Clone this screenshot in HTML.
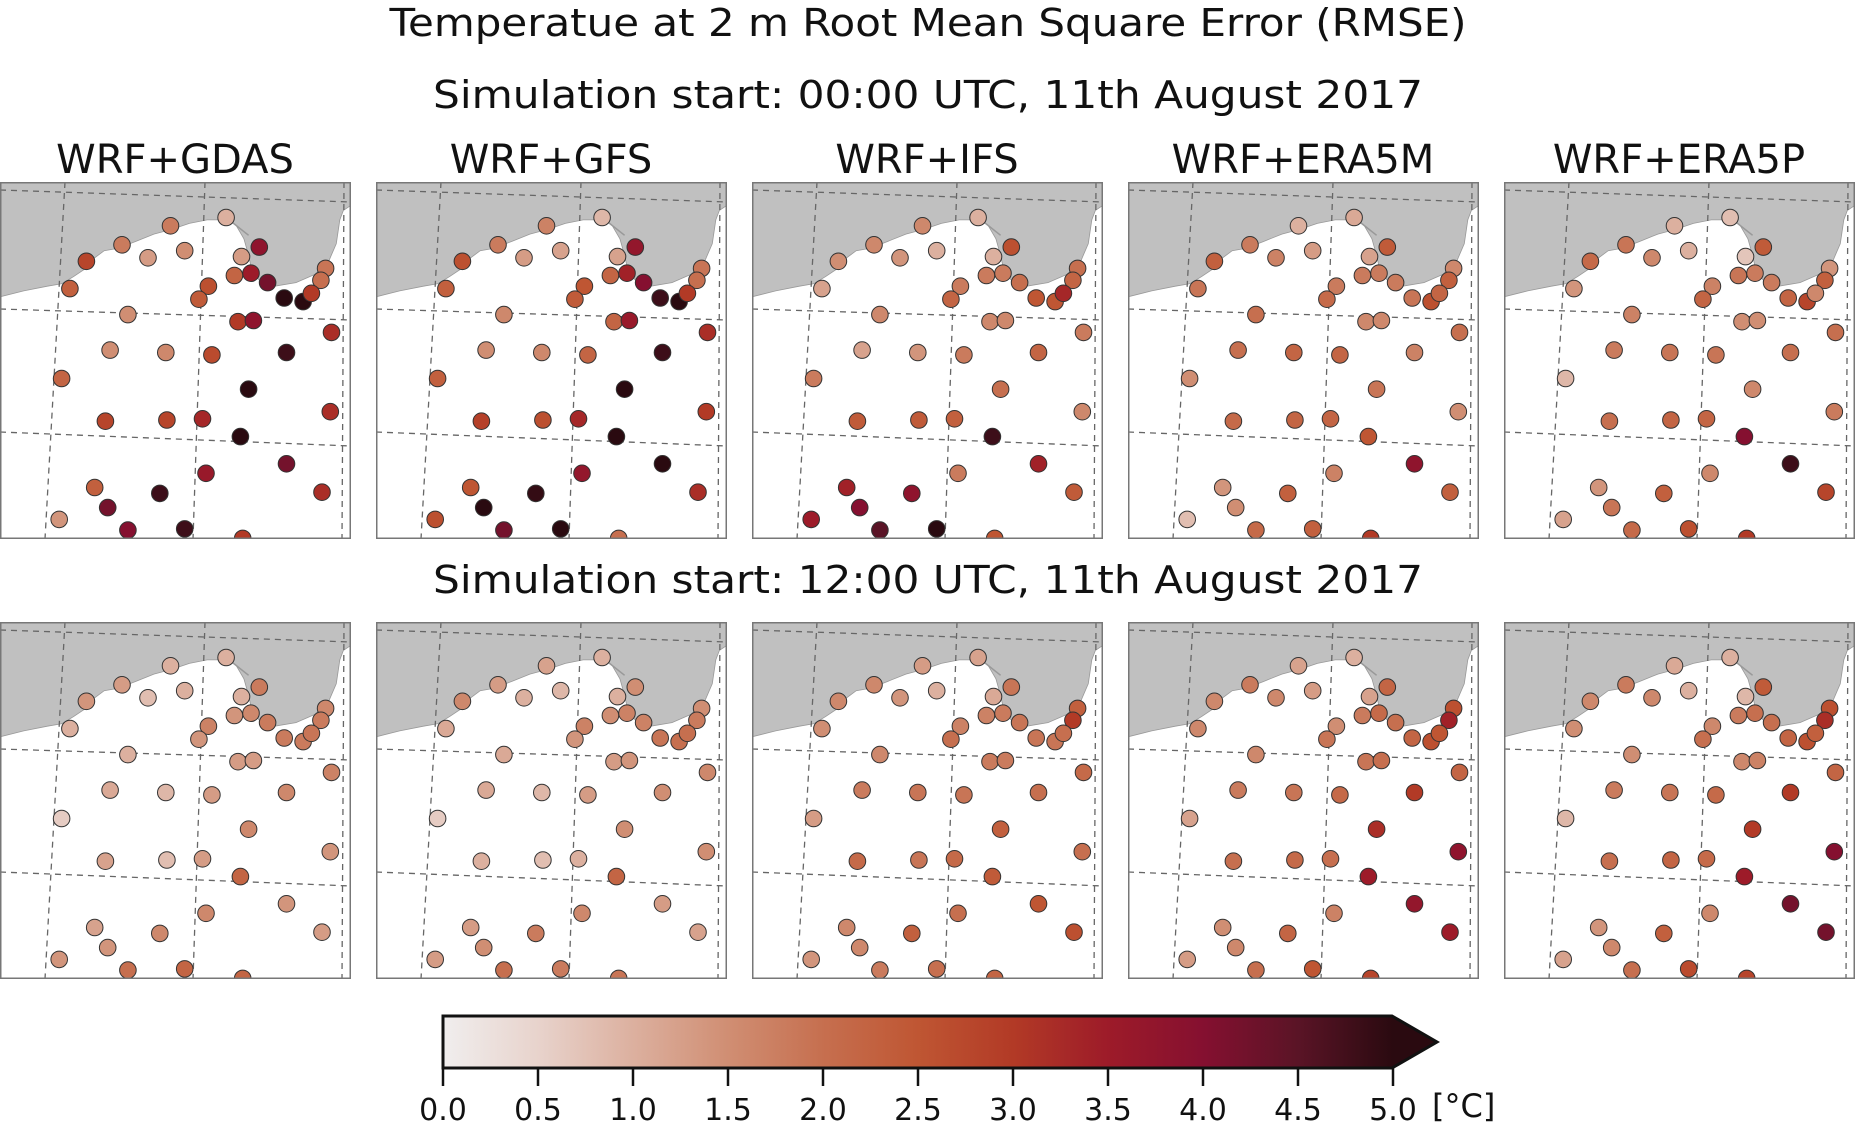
<!DOCTYPE html>
<html><head><meta charset="utf-8">
<style>
html,body{margin:0;padding:0;background:#fff;}
svg{display:block;}
text{font-family:"DejaVu Sans","Liberation Sans",sans-serif;fill:#111;}
</style></head>
<body>
<svg id="s" width="1857" height="1125" viewBox="0 0 1857 1125" xmlns="http://www.w3.org/2000/svg">
<defs>
<linearGradient id="cb" x1="0" x2="1" y1="0" y2="0">
<stop offset="0" stop-color="#f0eeee"/>
<stop offset="0.1" stop-color="#e8d3cc"/>
<stop offset="0.2" stop-color="#dcb09f"/>
<stop offset="0.3" stop-color="#d08e73"/>
<stop offset="0.4" stop-color="#c66f4f"/>
<stop offset="0.5" stop-color="#bf5633"/>
<stop offset="0.6" stop-color="#b23a26"/>
<stop offset="0.7" stop-color="#9d1b29"/>
<stop offset="0.8" stop-color="#851030"/>
<stop offset="0.9" stop-color="#5a1426"/>
<stop offset="1" stop-color="#2a0a10"/>
</linearGradient>
</defs>
<text x="928" y="36" font-size="38" text-anchor="middle" textLength="1077" lengthAdjust="spacingAndGlyphs">Temperatue at 2 m Root Mean Square Error (RMSE)</text>
<text x="928" y="108" font-size="38" text-anchor="middle" textLength="990" lengthAdjust="spacingAndGlyphs">Simulation start: 00:00 UTC, 11th August 2017</text>
<text x="928" y="593" font-size="38" text-anchor="middle" textLength="990" lengthAdjust="spacingAndGlyphs">Simulation start: 12:00 UTC, 11th August 2017</text>
<g id="panels"></g>
<rect x="443" y="1016" width="950" height="52" fill="url(#cb)"/>
<polygon points="1392,1016 1437,1042 1392,1068" fill="#2a0a10"/>
<polygon points="443,1016 1392,1016 1437,1042 1392,1068 443,1068" fill="none" stroke="#111" stroke-width="3"/>
<g id="cbt"></g>
<text x="1432" y="1117" font-size="32">[°C]</text>
</svg>
<script>
var NS="http://www.w3.org/2000/svg";
function el(t,a,p){var e=document.createElementNS(NS,t);for(var k in a)e.setAttribute(k,a[k]);p.appendChild(e);return e;}
var stops=[[0,[240,238,238]],[0.5,[232,211,204]],[1,[220,176,159]],[1.5,[208,142,115]],[2,[198,111,79]],[2.5,[191,86,51]],[3,[178,58,38]],[3.5,[157,27,41]],[4,[133,16,48]],[4.5,[90,20,38]],[5,[42,10,16]]];
function col(v){v=Math.max(0,Math.min(5,v));for(var i=0;i<stops.length-1;i++){if(v<=stops[i+1][0]){var t=(v-stops[i][0])/0.5,a=stops[i][1],b=stops[i+1][1];return "rgb("+[0,1,2].map(function(j){return Math.round(a[j]+(b[j]-a[j])*t)}).join(",")+")";}}return "rgb(42,10,16)";}
var st=[[191,30],[144,37],[103,53],[125,64],[156,58],[219,55],[204,63],[73,67],[212,77],[198,79],[226,85],[275,73],[271,83],[176,88],[59,90],[240,98],[256,101],[263,94],[168,99],[108,112],[201,118],[214,117],[280,127],[93,142],[140,144],[179,146],[242,144],[52,166],[210,175],[279,194],[89,202],[141,201],[171,200],[203,215],[242,238],[174,246],[80,258],[135,263],[272,262],[91,275],[50,285],[108,294],[156,293],[205,301]];
var V=[
[1.0,1.8,1.8,1.3,1.5,3.8,1.3,2.8,3.5,2.2,4.2,1.9,2.0,2.6,2.3,5,5,3.0,2.4,1.5,3.0,3.8,3.2,1.5,1.6,2.7,4.8,2.2,5,3.2,2.8,2.8,3.3,5,4.2,3.6,2.3,4.8,3.2,4.2,1.4,4.0,4.8,3.0],
[0.9,1.7,1.8,1.3,1.2,3.7,1.2,2.6,3.4,2.2,4.0,1.9,2.0,2.5,2.3,4.8,5,3.0,2.4,1.6,2.2,3.6,3.2,1.5,1.6,2.2,4.8,2.3,5,3.0,2.9,2.6,3.3,5,5,3.7,2.5,4.9,3.2,5,2.6,4.2,5,2.0],
[1.0,1.6,1.6,1.4,1.0,2.6,1.0,1.5,1.8,1.8,2.0,2.0,2.2,1.8,1.2,2.5,2.5,3.3,2.2,1.6,1.6,1.6,1.8,1.2,1.4,1.8,2.2,1.8,2.0,1.6,2.4,2.4,2.3,4.8,3.4,1.8,3.4,3.8,2.4,4.0,3.5,4.5,5,2.5],
[1.1,1.0,1.8,1.7,1.3,2.4,1.2,2.3,1.8,1.8,1.8,1.6,2.3,1.8,1.9,1.9,2.6,2.2,2.1,2.0,1.6,1.6,2.0,2.0,2.2,2.2,1.7,1.5,1.9,1.5,2.1,2.2,2.2,2.5,3.8,1.7,1.4,2.3,2.3,1.5,0.8,2.1,2.3,3.0],
[0.8,1.0,1.9,1.6,1.0,2.4,0.7,2.1,1.8,1.9,1.8,1.4,2.3,1.7,1.4,2.2,2.8,1.6,2.2,1.7,1.5,1.5,2.0,1.8,1.9,1.9,2.0,0.9,1.6,1.8,2.0,2.2,2.2,4.0,4.8,1.6,1.4,2.3,2.8,1.9,1.2,2.1,2.6,3.0],
[1.0,1.0,1.3,0.8,1.0,1.8,1.0,1.4,1.6,1.4,1.8,1.6,1.8,1.7,1.0,1.8,1.8,1.9,1.4,1.0,1.3,1.3,1.7,1.1,0.9,1.3,1.6,0.6,1.6,1.4,1.2,0.8,1.3,2.2,1.4,1.6,1.2,1.6,1.3,1.4,1.4,2.0,2.2,2.2],
[1.0,1.2,1.3,1.0,0.9,1.5,1.0,1.6,1.7,1.5,1.7,1.5,1.8,1.7,1.1,1.9,2.0,2.0,1.4,1.1,1.3,1.4,1.6,1.1,0.9,1.3,1.5,0.6,1.5,1.5,1.0,0.8,1.0,2.2,1.3,1.6,1.3,1.8,1.2,1.5,1.3,2.0,1.8,1.9],
[1.2,1.3,1.6,1.4,1.0,1.9,1.1,1.6,1.8,1.7,1.9,2.3,3.0,1.7,1.5,1.9,1.9,2.0,2.0,1.6,1.8,1.8,2.1,1.8,1.9,1.9,2.0,1.3,2.3,2.0,2.1,1.9,2.1,2.4,2.5,2.0,1.6,2.3,2.6,1.6,1.4,1.8,2.0,2.2],
[1.0,1.2,1.8,1.6,1.3,2.2,1.2,1.6,2.1,1.8,2.0,2.6,3.4,1.5,1.6,2.2,2.6,2.5,1.9,1.6,1.9,2.0,2.2,1.8,1.9,2.1,3.0,1.2,3.2,3.8,2.0,2.1,2.0,3.5,3.7,1.7,1.5,2.2,3.5,1.6,1.3,2.0,2.5,2.8],
[1.0,1.1,1.8,1.6,1.0,2.4,0.9,1.6,2.0,1.8,2.0,2.6,3.2,1.6,1.5,2.2,2.6,2.3,2.0,1.5,1.6,1.7,2.2,1.8,1.9,2.1,3.0,0.9,3.0,4.0,2.0,2.2,2.1,3.5,4.2,1.6,1.4,2.3,4.2,1.6,1.2,2.0,2.7,2.8]
];
var K=1.184;
function sc(pts){return pts.map(function(p){return (p[0]*K).toFixed(1)+","+(p[1]*K).toFixed(1)}).join(" ");}
var land=[[0,0],[296,0],[296,20],[290,24],[287,32],[284,52],[278,66],[266,78],[250,85],[232,88],[220,84],[213,76],[210,62],[206,48],[199,36],[191,32],[175,32],[160,35],[145,40],[130,44],[115,50],[100,56],[88,58],[80,64],[74,72],[62,80],[52,86],[40,88],[20,92],[0,97]];
var P=document.getElementById("panels");
var titles=["WRF+GDAS","WRF+GFS","WRF+IFS","WRF+ERA5M","WRF+ERA5P"];
for(var r=0;r<2;r++)for(var c=0;c<5;c++){
 var x0=c*376,y0=r?622:182;
 var g=el("g",{transform:"translate("+x0+","+y0+")"},P);
 el("rect",{x:0,y:0,width:351,height:357,fill:"#fff"},g);
 el("clipPath",{id:"c"+r+c},g);
 var cp=document.getElementById("c"+r+c);el("rect",{x:0,y:0,width:351,height:357},cp);
 var gi=el("g",{"clip-path":"url(#c"+r+c+")"},g);
 el("polygon",{points:sc(land),fill:"#c0c0c0",stroke:"#999","stroke-width":0.8},gi);
 el("polyline",{points:sc([[191,30],[210,45]]),fill:"none",stroke:"#999","stroke-width":1.5},gi);
 var ds={stroke:"#666","stroke-width":1.3,"stroke-dasharray":"6,5",fill:"none"};
 [[0,8,351,20],[0,127,351,138],[0,250,351,264],[65,0,45,357],[205,0,193,357],[344,0,342,357]].forEach(function(l){var a=Object.assign({x1:l[0],y1:l[1],x2:l[2],y2:l[3]},ds);el("line",a,gi);});
 var vals=V[r*5+c];
 st.forEach(function(p,i){el("circle",{cx:(p[0]*K).toFixed(1),cy:(p[1]*K).toFixed(1),r:8.3,fill:col(vals[i]),stroke:"#333","stroke-width":1},gi);});
 el("rect",{x:0.75,y:0.75,width:349.5,height:355.5,fill:"none",stroke:"#777","stroke-width":1.5},g);
 if(r==0){var t=el("text",{x:x0+175,y:173,"font-size":40,"text-anchor":"middle"},P);t.textContent=titles[c];}
}
var T=document.getElementById("cbt");
for(var i=0;i<=10;i++){var x=443+i*95;el("line",{x1:x,y1:1068,x2:x,y2:1086,stroke:"#111","stroke-width":2.5},T);var t=el("text",{x:x,y:1120,"font-size":30,"text-anchor":"middle"},T);t.textContent=(i*0.5).toFixed(1);}
</script>
</body></html>
